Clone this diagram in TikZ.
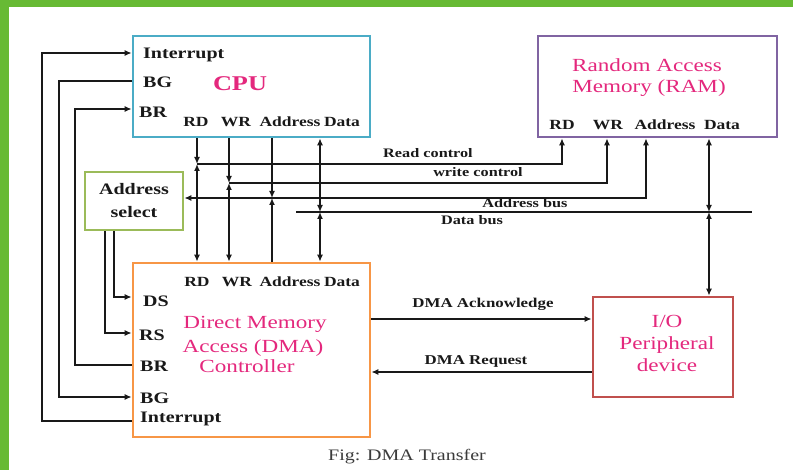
\documentclass[tikz,border=0pt]{standalone}
\usepackage{fontspec}
\setmainfont[FakeStretch=1.25]{Liberation Serif}
\usetikzlibrary{arrows.meta}
\definecolor{gbar}{RGB}{103,186,52}
\definecolor{cpuc}{RGB}{75,172,198}
\definecolor{asc}{RGB}{155,187,89}
\definecolor{dmac}{RGB}{247,150,70}
\definecolor{ramc}{RGB}{128,100,162}
\definecolor{ioc}{RGB}{192,80,77}
\definecolor{pinkc}{RGB}{228,40,125}
\definecolor{inkc}{RGB}{25,25,25}
\begin{document}
\begin{tikzpicture}[x=1pt,y=-1pt,
  >={Latex[length=7pt,width=6pt]},
  box/.style={draw, line width=2.6pt, inner sep=0pt, anchor=center},
  sidelbl/.style={inner sep=0pt, text=inkc, anchor=base west, font=\fontsize{16}{16}\selectfont\bfseries},
  portlbl/.style={inner sep=0pt, text=inkc, anchor=base, font=\fontsize{14}{14}\selectfont\bfseries},
  buslbl/.style={inner sep=0pt, text=inkc, anchor=base, font=\fontsize{13}{13}\selectfont\bfseries},
  ttl/.style={inner sep=0pt, text=pinkc, anchor=base, font=\fontsize{18.5}{18.5}\selectfont},
  bus/.style={line width=1.6pt, draw=inkc}
]
\useasboundingbox (0,0) rectangle (793,470);
\fill[white] (0,0) rectangle (793,470);
\fill[gbar] (0,0) rectangle (793,7.5);
\fill[gbar] (0,0) rectangle (8.5,470);

% boxes
\node[box, draw=cpuc, minimum width=237pt, minimum height=101pt] (cpu) at (251.5,86.5) {};
\node[box, draw=asc, minimum width=98pt, minimum height=58pt, align=center, text=inkc,
      font=\fontsize{16}{23}\selectfont\bfseries] (as) at (134,201) {Address\\select};
\node[box, draw=dmac, minimum width=237pt, minimum height=174pt] (dma) at (251.5,350) {};
\node[box, draw=ramc, minimum width=239pt, minimum height=101pt] (ram) at (657.5,86.5) {};
\node[box, draw=ioc, minimum width=140pt, minimum height=100pt] (io) at (663,347) {};

% CPU texts
\node[ttl, font=\fontsize{21}{21}\selectfont\bfseries] (cpuT) at (240,91) {CPU};
\node[sidelbl] (cpuInt) at (143,59) {Interrupt};
\node[sidelbl] (cpuBG) at (143,88) {BG};
\node[sidelbl] (cpuBR) at (139,118) {BR};
\node[portlbl] (cpuRD) at (196,127) {RD};
\node[portlbl] (cpuWR) at (236,127) {WR};
\node[portlbl] (cpuAD) at (290,127) {Address};
\node[portlbl] (cpuDA) at (342,127) {Data};

% DMA texts
\node[ttl] (dmaT1) at (255,329) {Direct Memory};
\node[ttl] (dmaT2) at (253,353) {Access (DMA)};
\node[ttl] (dmaT3) at (247,373) {Controller};
\node[portlbl] (dmaRD) at (197,287) {RD};
\node[portlbl] (dmaWR) at (237,287) {WR};
\node[portlbl] (dmaAD) at (290,287) {Address};
\node[portlbl] (dmaDA) at (342,287) {Data};
\node[sidelbl] (dmaDS) at (143,307) {DS};
\node[sidelbl] (dmaRS) at (139,341) {RS};
\node[sidelbl] (dmaBR) at (140,372) {BR};
\node[sidelbl] (dmaBG) at (140,403) {BG};
\node[sidelbl] (dmaInt) at (140,423) {Interrupt};

% RAM texts
\node[ttl] (ramT1) at (647,72) {Random Access};
\node[ttl] (ramT2) at (649,93) {Memory (RAM)};
\node[portlbl] (ramRDl) at (562,130) {RD};
\node[portlbl] (ramWRl) at (608,130) {WR};
\node[portlbl] (ramADl) at (665,130) {Address};
\node[portlbl] (ramDAl) at (722,130) {Data};

% IO texts
\node[ttl] (ioT1) at (667,328) {I/O};
\node[ttl] (ioT2) at (667,350) {Peripheral};
\node[ttl] (ioT3) at (667,372) {device};

% bus coordinates
\coordinate (rdR) at (197,164);
\coordinate (wrW) at (229,183);
\coordinate (adA) at (272,198);
\coordinate (daD) at (320,212);
\coordinate (ramRD) at (562,164);
\coordinate (ramWR) at (607,183);
\coordinate (ramAD) at (646,198);
\coordinate (dbL) at (296,212);
\coordinate (dbR) at (752,212);
\coordinate (ramDA) at (709,212);

% RD
\draw[bus,->] (cpu.south -| rdR) -- (rdR);
\draw[bus,<->] (rdR) -- (dma.north -| rdR);
\draw[bus,->] (rdR) -- (ramRD) -- (ram.south -| ramRD);
% WR
\draw[bus,->] (cpu.south -| wrW) -- (wrW);
\draw[bus,<->] (wrW) -- (dma.north -| wrW);
\draw[bus,->] (wrW) -- (ramWR) -- (ram.south -| ramWR);
% Address
\draw[bus,->] (cpu.south -| adA) -- (adA);
\draw[bus,->] (dma.north -| adA) -- (adA);
\draw[bus,<->] (as.east |- adA) -- (ramAD) -- (ram.south -| ramAD);
% Data
\draw[bus] (dbL) -- (dbR);
\draw[bus,<->] (cpu.south -| daD) -- (daD);
\draw[bus,<->] (daD) -- (dma.north -| daD);
\draw[bus,<->] (ram.south -| ramDA) -- (ramDA);
\draw[bus,<->] (ramDA) -- (io.north -| ramDA);

% bus labels
\node[buslbl] (lRead) at (428,158) {Read control};
\node[buslbl] (lWrite) at (478,177) {write control};
\node[buslbl] (lAddr) at (525,208) {Address bus};
\node[buslbl] (lData) at (472,225) {Data bus};

% left side control lines
\coordinate (cInt) at (42,421);
\coordinate (cIntT) at (42,53);
\draw[bus,->] (dma.west |- cInt) -- (cInt) -- (cIntT) -- (cpu.west |- cIntT);
\coordinate (cBGt) at (59,81);
\coordinate (cBGb) at (59,397);
\draw[bus,->] (cpu.west |- cBGt) -- (cBGt) -- (cBGb) -- (dma.west |- cBGb);
\coordinate (cBRb) at (75,365);
\coordinate (cBRt) at (75,109);
\draw[bus,->] (dma.west |- cBRb) -- (cBRb) -- (cBRt) -- (cpu.west |- cBRt);
\coordinate (cDS) at (114,297);
\draw[bus,->] (as.south -| cDS) -- (cDS) -- (dma.west |- cDS);
\coordinate (cRS) at (105,333);
\draw[bus,->] (as.south -| cRS) -- (cRS) -- (dma.west |- cRS);

% DMA <-> IO
\coordinate (ackY) at (480,319);
\coordinate (reqY) at (480,372);
\draw[bus,->] (dma.east |- ackY) -- (io.west |- ackY);
\draw[bus,->] (io.west |- reqY) -- (dma.east |- reqY);
\node[buslbl, font=\fontsize{13.5}{13.5}\selectfont\bfseries] (lAck) at (483,308) {DMA Acknowledge};
\node[buslbl, font=\fontsize{13.5}{13.5}\selectfont\bfseries] (lReq) at (476,365) {DMA Request};

% caption
\node[inner sep=0pt, anchor=base, text=inkc!85, font=\fontsize{16}{16}\selectfont] (cap) at (407,460) {Fig: DMA Transfer};
\end{tikzpicture}
\end{document}
